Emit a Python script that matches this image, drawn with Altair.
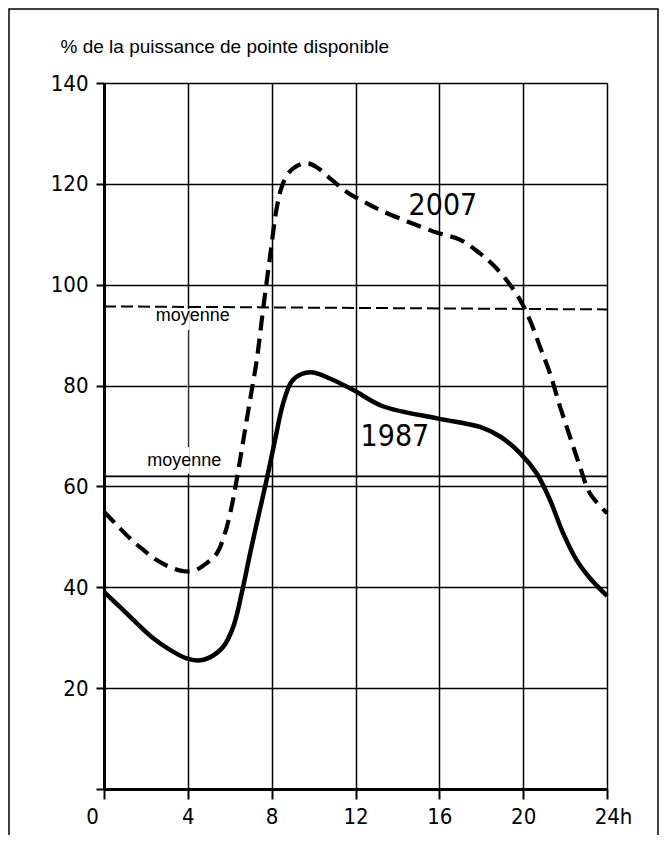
import altair as alt
import pandas as pd

# ---- data ----
hours_1987 = [0.0, 0.76, 1.56, 2.35, 3.15, 3.94, 4.5, 5.0, 5.69, 6.17, 6.57, 6.97, 7.36, 7.76,
              8.16, 8.55, 8.95, 9.43, 9.98, 10.78, 11.9, 13.3, 15.9, 17.94, 18.9, 19.85,
              20.64, 21.28, 21.91, 22.55, 23.19, 24.0]
load_1987 = [39.1, 36.1, 32.9, 29.9, 27.6, 25.9, 25.5, 26.0, 28.2, 32.2, 38.8, 46.7, 54.0, 61.3,
             69.2, 76.5, 80.8, 82.3, 82.6, 81.4, 79.1, 75.9, 73.5, 71.8, 69.9, 66.6,
             62.6, 57.3, 50.7, 45.4, 41.8, 38.3]

hours_2007 = [0.0, 0.6, 1.24, 1.88, 2.51, 3.15, 3.78, 4.3, 4.9, 5.38, 5.77, 6.09, 6.33, 6.57,
              6.81, 7.05, 7.29, 7.6, 7.92, 8.24, 8.48, 8.79, 9.19, 9.67, 10.15, 10.78, 11.58,
              12.37, 13.17, 14.5, 15.9, 17.0, 17.94, 18.57, 19.21, 19.85, 20.32, 20.8, 21.28,
              21.76, 22.23, 22.71, 23.19, 24.0]
load_2007 = [55.0, 52.4, 49.7, 47.4, 45.4, 44.0, 43.2, 43.3, 44.8, 46.7, 50.7, 56.0, 61.3, 67.2,
             73.2, 79.1, 85.1, 95.4, 105.5, 115.2, 119.4, 122.1, 123.5, 124.1, 123.3, 121.1, 118.4,
             116.5, 114.8, 112.5, 110.3, 108.9, 106.2, 103.9, 100.9, 97.0, 93.0, 87.7, 82.4,
             75.8, 69.9, 63.9, 58.6, 54.7]

mean_1987 = 62.0
mean_2007_start, mean_2007_end = 95.7, 95.1

x_ticks = [0, 4, 8, 12, 16, 20, 24]
y_ticks = [0, 20, 40, 60, 80, 100, 120, 140]

title_text = "% de la puissance de pointe disponible"
year_labels = ["2007", "1987"]
year_x = [16.17, 13.88]
year_y = [115.7, 69.9]
mean_label = "moyenne"
mean_label_x = [4.24, 3.83]
mean_label_y = [93.7, 65.1]

NARROW = "DejaVu Sans Condensed, Liberation Sans Narrow, Liberation Sans, sans-serif"
REG = "Liberation Sans, Arial, sans-serif"

df87 = pd.DataFrame({"h": hours_1987, "v": load_1987})
df07 = pd.DataFrame({"h": hours_2007, "v": load_2007})

xs = alt.Scale(domain=[0, 24], nice=False, zero=True)
ys = alt.Scale(domain=[0, 140], nice=False, zero=True)

x_axis = alt.Axis(
    values=x_ticks, grid=True, gridColor="black", gridWidth=1.5, gridOpacity=1,
    domainColor="black", domainWidth=3, tickColor="black", tickWidth=2, tickSize=10,
    labelFont=NARROW, labelFontSize=22, labelColor="black", labelPadding=7,
    labelExpr="datum.value == 24 ? '24h' : datum.label",
    labelOffset={"condition": [{"test": "datum.value == 0", "value": -12},
                               {"test": "datum.value == 24", "value": 6}], "value": 0},
    labelFlush=False, labelOverlap=False, title=None,
)
y_axis = alt.Axis(
    values=y_ticks, grid=True, gridColor="black", gridWidth=1.5, gridOpacity=1,
    domainColor="black", domainWidth=3, tickColor="black", tickWidth=2, tickSize=8,
    labelFont=NARROW, labelFontSize=22, labelColor="black", labelPadding=8,
    labelExpr="datum.value == 0 ? '' : datum.label", labelFlush=False, labelOverlap=False,
    title=title_text, titleAngle=0, titleAlign="left", titleBaseline="alphabetic",
    titleX=-44, titleY=-31, titleFont=REG, titleFontSize=19, titleFontWeight="normal",
    titleColor="black",
)

curve87 = alt.Chart(df87).mark_line(color="black", strokeWidth=4.5, interpolate="catmull-rom").encode(
    x=alt.X("h:Q", scale=xs, axis=x_axis),
    y=alt.Y("v:Q", scale=ys, axis=y_axis),
)
curve07 = alt.Chart(df07).mark_line(color="black", strokeWidth=4.2, strokeDash=[15, 8],
                                    interpolate="catmull-rom").encode(
    x=alt.X("h:Q", scale=xs), y=alt.Y("v:Q", scale=ys))

mean87 = alt.Chart(pd.DataFrame({"y": [mean_1987]})).mark_rule(color="black", strokeWidth=1.8).encode(
    y=alt.Y("y:Q", scale=ys))
mean07 = alt.Chart(pd.DataFrame({"x": [0], "x2": [24], "y": [mean_2007_start], "y2": [mean_2007_end]})
                   ).mark_rule(color="black", strokeWidth=2, strokeDash=[12, 5]).encode(
    x=alt.X("x:Q", scale=xs), x2="x2:Q", y=alt.Y("y:Q", scale=ys), y2="y2:Q")

# white gaps in the 4h grid line around the "moyenne" labels
gaps = alt.Chart(pd.DataFrame({"x": [3.93, 3.93], "x2": [4.07, 4.07], "y": [91.0, 62.5], "y2": [95.2, 67.8]})
                 ).mark_rect(color="white").encode(
    x=alt.X("x:Q", scale=xs), x2="x2:Q", y=alt.Y("y:Q", scale=ys), y2="y2:Q")
thin = alt.Chart(pd.DataFrame({"x": [4], "y": [67.8], "y2": [91.0]})).mark_rule(
    color="white", strokeWidth=0.6).encode(x=alt.X("x:Q", scale=xs), y=alt.Y("y:Q", scale=ys), y2="y2:Q")

mean_txt = alt.Chart(pd.DataFrame({"x": mean_label_x, "y": mean_label_y, "t": [mean_label] * 2})).mark_text(
    font=REG, fontSize=18, color="black", baseline="middle", align="center").encode(
    x=alt.X("x:Q", scale=xs), y=alt.Y("y:Q", scale=ys), text="t:N")

year_txt = alt.Chart(pd.DataFrame({"x": year_x, "y": year_y, "t": year_labels})).mark_text(
    font=NARROW, fontSize=30, color="black", baseline="middle", align="center").encode(
    x=alt.X("x:Q", scale=xs), y=alt.Y("y:Q", scale=ys), text="t:N")

frame = alt.Chart(pd.DataFrame({"a": [0]})).mark_rect(filled=False, stroke="black", strokeWidth=1.5).encode(
    x=alt.value(-95), x2=alt.value(554), y=alt.value(-74), y2=alt.value(800))

chart = alt.layer(curve87, gaps, thin, mean87, mean07, curve07, mean_txt, year_txt, frame).properties(
    width=503, height=706, autosize="none",
    padding={"left": 96, "top": 75, "right": 52, "bottom": 46},
    background="white",
).configure_view(strokeWidth=0)

chart.save("out.html", embed_options={"renderer": "svg", "actions": False})
